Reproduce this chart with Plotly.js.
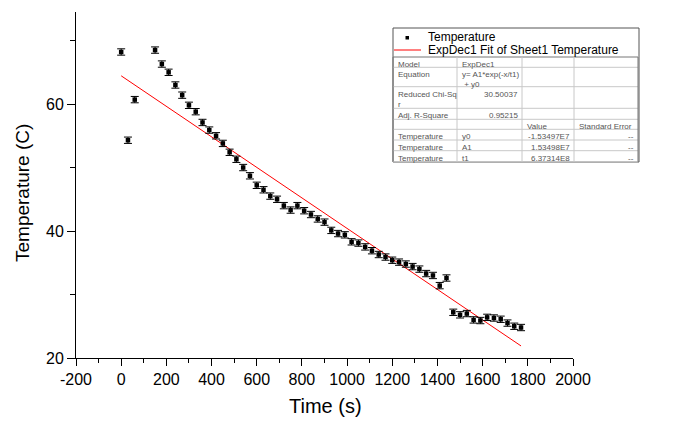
<!DOCTYPE html>
<html>
<head>
<meta charset="utf-8">
<script src="https://cdn.plot.ly/plotly-3.0.1.min.js"></script>
<style>html,body{margin:0;padding:0;background:#fff}#chart{width:676px;height:425px}</style>
</head>
<body>
<div id="chart"></div>
<script>
// ---- data ----
const timeS = [0, 30, 60, 150, 180, 210, 240, 270, 300, 330, 360, 390, 420, 450, 480, 510, 540, 570, 600, 630,
  660, 690, 720, 750, 780, 810, 840, 870, 900, 930, 960, 990, 1020, 1050, 1080, 1110, 1140, 1170, 1200, 1230,
  1260, 1290, 1320, 1350, 1380, 1410, 1440, 1470, 1500, 1530, 1560, 1590, 1620, 1650, 1680, 1710, 1740, 1770];
const temperature = [68.2, 54.3, 60.7, 68.5, 66.3, 65.0, 63.0, 61.4, 59.8, 58.8, 57.1, 55.9, 55.0, 53.8, 52.4, 51.3, 50.0, 48.7, 47.2, 46.5,
  45.5, 45.0, 44.0, 43.3, 44.0, 43.2, 42.6, 41.9, 41.4, 40.1, 39.6, 39.4, 38.3, 38.1, 37.5, 36.9, 36.3, 35.9, 35.4, 35.1,
  34.8, 34.4, 34.0, 33.3, 33.0, 31.4, 32.6, 27.2, 26.8, 27.0, 26.0, 25.9, 26.4, 26.3, 26.1, 25.5, 25.0, 24.8];
const tempError = 0.5;
const fitTime = [0, 1770];
const fitTemp = [64.45, 21.9];

const xTickVals = [-200, 0, 200, 400, 600, 800, 1000, 1200, 1400, 1600, 1800, 2000];
const xTickText = ['-200', '0', '200', '400', '600', '800', '1000', '1200', '1400', '1600', '1800', '2000'];
const yTickVals = [20, 40, 60];
const yTickText = ['20', '40', '60'];

const legendNames = ['Temperature', 'ExpDec1 Fit of Sheet1 Temperature'];
const tableRows = [
  ['Model', 'ExpDec1', '', ''],
  ['Equation', 'y= A1*exp(-x/t1)<br> + y0', '', ''],
  ['Reduced Chi-Sq<br>r', '30.50037', '', ''],
  ['Adj. R-Square', '0.95215', '', ''],
  ['', '', 'Value', 'Standard Error'],
  ['Temperature', 'y0', '-1.53497E7', '--'],
  ['Temperature', 'A1', '1.53498E7', '--'],
  ['Temperature', 't1', '6.37314E8', '--']
];

// ---- layout geometry (pixels) ----
const L = 76, R = 573, T = 12, B = 358;
const px = v => (v - L) / (R - L);
const py = v => (B - v) / (B - T);
const FONT = 'Liberation Sans, Arial, sans-serif';

const shapes = [];
const annotations = [];

// legend + table box
const bx0 = 393, bx1 = 639, by0 = 28, by1 = 162;
shapes.push({type: 'rect', xref: 'paper', yref: 'paper', x0: px(bx0), x1: px(bx1), y0: py(by0), y1: py(by1),
  line: {color: '#555', width: 1}, fillcolor: 'rgba(255,255,255,1)', layer: 'above'});
// legend marker and line
shapes.push({type: 'rect', xref: 'paper', yref: 'paper', x0: px(405.5), x1: px(409), y0: py(36), y1: py(39.5),
  line: {width: 0}, fillcolor: '#000', layer: 'above'});
shapes.push({type: 'line', xref: 'paper', yref: 'paper', x0: px(394), x1: px(421), y0: py(50), y1: py(50),
  line: {color: '#ff0000', width: 1}, layer: 'above'});
annotations.push({xref: 'paper', yref: 'paper', x: px(426), y: py(37.5), text: legendNames[0], showarrow: false,
  xanchor: 'left', yanchor: 'middle', font: {family: FONT, size: 12, color: '#000'}});
annotations.push({xref: 'paper', yref: 'paper', x: px(426), y: py(49.5), text: legendNames[1], showarrow: false,
  xanchor: 'left', yanchor: 'middle', font: {family: FONT, size: 12, color: '#000'}});

// table grid
const colX = [393, 457, 522, 574, 638];
const rowY = [57, 67.3, 86.7, 108.3, 119.3, 129.3, 140, 150.7, 161.7];
rowY.forEach((y, i) => {
  shapes.push({type: 'line', xref: 'paper', yref: 'paper', x0: px(colX[0]), x1: px(colX[4]), y0: py(y), y1: py(y),
    line: {color: i === 0 ? '#777' : '#c8c8c8', width: 1}, layer: 'above'});
});
colX.forEach((x, i) => {
  shapes.push({type: 'line', xref: 'paper', yref: 'paper', x0: px(x), x1: px(x), y0: py(rowY[0]), y1: py(rowY[8]),
    line: {color: (i === 0 || i === 4) ? '#777' : '#c8c8c8', width: 1}, layer: 'above'});
});
// table text
const rightAligned = {'30.50037': 1, '0.95215': 1, '-1.53497E7': 1, '1.53498E7': 1, '6.37314E8': 1, '--': 1};
tableRows.forEach((row, r) => {
  const top = rowY[r];
  row.forEach((txt, c) => {
    if (!txt) return;
    const multi = txt.indexOf('<br>') >= 0;
    const ra = rightAligned[txt];
    annotations.push({xref: 'paper', yref: 'paper',
      x: ra ? px(colX[c + 1] - 2) : px(colX[c] + 2.5),
      y: py(top + 1), yanchor: 'top', xanchor: ra ? 'right' : 'left', align: 'left',
      text: txt, showarrow: false,
      font: {family: FONT, size: 8, color: '#555'}});
  });
});

// axis titles
annotations.push({xref: 'paper', yref: 'paper', x: px(325), y: py(406), text: 'Time (s)', showarrow: false,
  xanchor: 'center', yanchor: 'middle', font: {family: FONT, size: 20, color: '#000'}});
annotations.push({xref: 'paper', yref: 'paper', x: px(22), y: py(193), text: 'Temperature (C)', showarrow: false,
  textangle: -90, xanchor: 'center', yanchor: 'middle', font: {family: FONT, size: 19, color: '#000'}});

const traces = [
  {x: fitTime, y: fitTemp, type: 'scatter', mode: 'lines', name: legendNames[1],
   line: {color: '#ff0000', width: 1}, hoverinfo: 'skip'},
  {x: timeS, y: temperature, type: 'scatter', mode: 'markers', name: legendNames[0],
   marker: {symbol: 'square', size: 4.5, color: '#000'},
   error_y: {type: 'constant', value: tempError, color: '#000', thickness: 1, width: 4}}
];

const layout = {
  width: 676, height: 425,
  margin: {l: L, r: 676 - R, t: T, b: 425 - B, pad: 0},
  paper_bgcolor: '#fff', plot_bgcolor: '#fff',
  showlegend: false,
  font: {family: FONT, color: '#000'},
  xaxis: {range: [-200, 2000], tickmode: 'array', tickvals: xTickVals, ticktext: xTickText,
    ticks: 'outside', ticklen: 7, tickwidth: 1, tickcolor: '#000',
    showline: true, linecolor: '#000', linewidth: 1, showgrid: false, zeroline: false,
    tickfont: {family: FONT, size: 16, color: '#000'},
    minor: {dtick: 100, tick0: 0, ticks: 'outside', ticklen: 4, tickwidth: 1, tickcolor: '#000', showgrid: false}},
  yaxis: {range: [20, 74.5], tickmode: 'array', tickvals: yTickVals, ticktext: yTickText,
    ticks: 'outside', ticklen: 8, tickwidth: 1, tickcolor: '#000',
    showline: true, linecolor: '#000', linewidth: 1, showgrid: false, zeroline: false,
    tickfont: {family: FONT, size: 16, color: '#000'},
    minor: {tickvals: [30, 50, 70], ticks: 'outside', ticklen: 5, tickwidth: 1, tickcolor: '#000', showgrid: false}},
  shapes: shapes,
  annotations: annotations
};

Plotly.newPlot('chart', traces, layout, {displayModeBar: false, staticPlot: true});
</script>
</body>
</html>
